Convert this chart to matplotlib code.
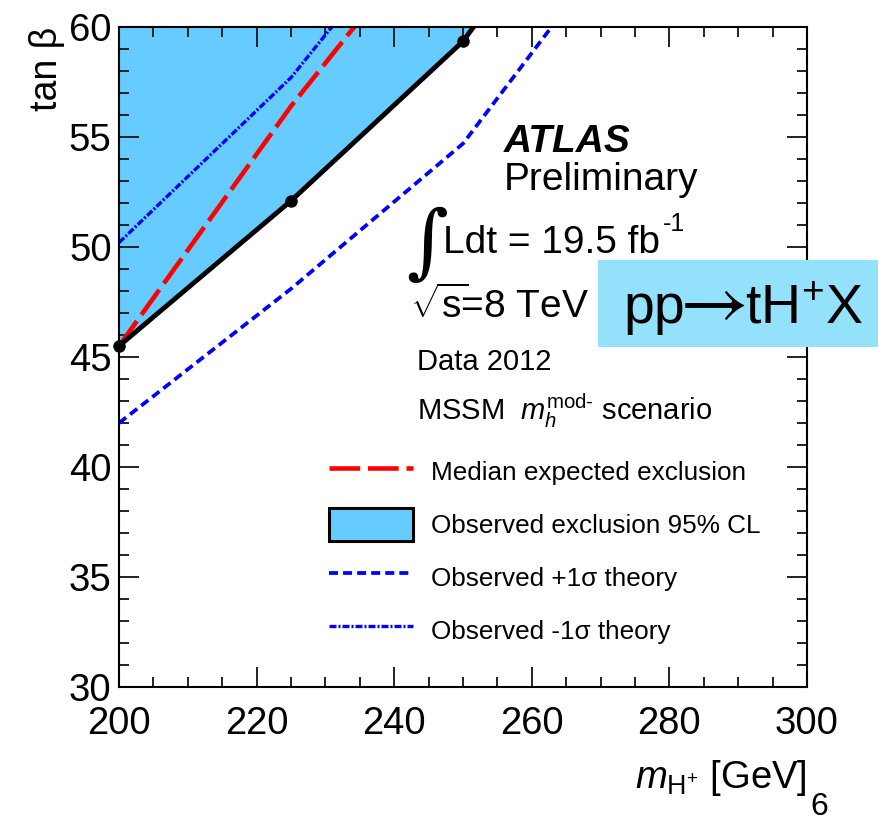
import matplotlib
matplotlib.use('Agg')
import matplotlib.pyplot as plt
from matplotlib.ticker import MultipleLocator
from matplotlib.lines import Line2D
from matplotlib.patches import Patch, Rectangle
import numpy as np

plt.rcParams['font.family'] = ['Liberation Sans', 'DejaVu Sans']
plt.rcParams['mathtext.fontset'] = 'custom'
plt.rcParams['mathtext.rm'] = 'Liberation Sans'
plt.rcParams['mathtext.it'] = 'Liberation Sans:italic'
plt.rcParams['mathtext.bf'] = 'Liberation Sans:bold'

# charged Higgs mass points [GeV] and tan(beta) limits
mass = [200, 225, 250, 275]
observed = [45.5, 52.1, 59.35, 70.0]
expected_median = [45.5, 56.4, 66.2, 76.0]
observed_plus1 = [42.0, 48.1, 54.7, 65.0]
observed_minus1 = [50.2, 57.7, 67.4, 76.0]

fill_color = '#66ccff'
red_style = dict(color='red', lw=3.3, dashes=(6.7, 1.7))
up_style = dict(color='blue', lw=2.7, dashes=(2.4, 1.35))
down_style = dict(color='blue', lw=2.4, dashes=(2.1, 0.6, 0.6, 0.6))

fig = plt.figure(figsize=(8.86, 8.22), dpi=100)
ax = fig.add_axes([119/886, 1 - 687/822, 688/886, 660/822])

# excluded region lies above the observed limit
ax.fill_between(mass, observed, 100, color=fill_color, lw=0)
ax.plot(mass, observed_plus1, **up_style)
ax.plot(mass, observed_minus1, **down_style)
ax.plot(mass, expected_median, **red_style)
ax.plot(mass, observed, color='black', lw=3.5)
obs_arr = np.array(observed)
m_arr = np.array(mass)
vis = obs_arr <= 60
ax.plot(m_arr[vis], obs_arr[vis], 'o', color='black', ms=8, clip_on=False, zorder=5)

ax.set_xlim(200, 300)
ax.set_ylim(30, 60)
ax.xaxis.set_major_locator(MultipleLocator(20))
ax.xaxis.set_minor_locator(MultipleLocator(5))
ax.yaxis.set_major_locator(MultipleLocator(5))
ax.yaxis.set_minor_locator(MultipleLocator(1))
ax.tick_params(which='both', direction='in', top=True, right=True, width=1.4, color='#222222')
ax.tick_params(which='major', length=14.4, labelsize=27.5)
ax.tick_params(which='minor', length=7.2)
ax.tick_params(axis='x', which='major', pad=13.5)
ax.tick_params(axis='y', which='major', pad=5.3)
for s in ax.spines.values():
    s.set_linewidth(1.5)

ax.set_xlabel(r'$m_{\mathrm{H}^{+}}$ [GeV]', fontsize=27.5, loc='right')
ax.xaxis.set_label_coords(1.0, -0.108)
ax.set_ylabel('tan β', fontsize=27, loc='top')
ax.yaxis.set_label_coords(-0.078, 1.0)

# legend
handles = [
    Line2D([], [], **red_style),
    Patch(facecolor=fill_color, edgecolor='black', lw=2.2),
    Line2D([], [], **up_style),
    Line2D([], [], **down_style),
]
labels = ['Median expected exclusion', 'Observed exclusion 95% CL',
          'Observed +1σ theory', 'Observed -1σ theory']
ax.legend(handles, labels, loc='upper left', bbox_to_anchor=((329 - 119) / 688, (687 - 455) / 660),
          frameon=False, fontsize=18.8, borderpad=0, borderaxespad=0,
          handlelength=3.2, handleheight=1.6, handletextpad=0.7, labelspacing=0.74)

# ATLAS labels
fig.text(504/886, 1 - 151.7/822, 'ATLAS', fontsize=28, fontweight='bold', fontstyle='italic')
fig.text(504/886, 1 - 190/822, 'Preliminary', fontsize=28)
fig.text(406/886, 1 - 285/822, '∫', fontsize=58, family='DejaVu Serif', va='bottom')
fig.text(443/886, 1 - 252.7/822, 'Ldt = 19.5 fb', fontsize=28)
fig.text(663/886, 1 - 231/822, '-1', fontsize=18)
fig.text(410/886, 1 - 318.3/822, r'$\sqrt{\mathrm{s}}\!$=8 TeV', fontsize=28)
fig.text(416.7/886, 1 - 370/822, 'Data 2012', fontsize=21)
fig.text(416.7/886, 1 - 420/822, r'MSSM  $m_{h}^{\mathrm{mod\text{-}}}$ scenario', fontsize=21)

# process box
fig.patches.append(Rectangle((598/886, 1 - 347/822), 280/886, 87/822,
                             transform=fig.transFigure, facecolor='#93e1fb', edgecolor='none'))
fig.text(623/886, 1 - 323/822, 'pp', fontsize=40)
fig.text(669/886, 1 - 323/822, r'$\rightarrow$', fontsize=54, math_fontfamily='stix')
fig.text(745/886, 1 - 323/822, 'tH$^{+}$X', fontsize=40)

fig.text(810/886, 0.0, '6', fontsize=23, va='bottom')

fig.savefig('out.png', dpi=100)
